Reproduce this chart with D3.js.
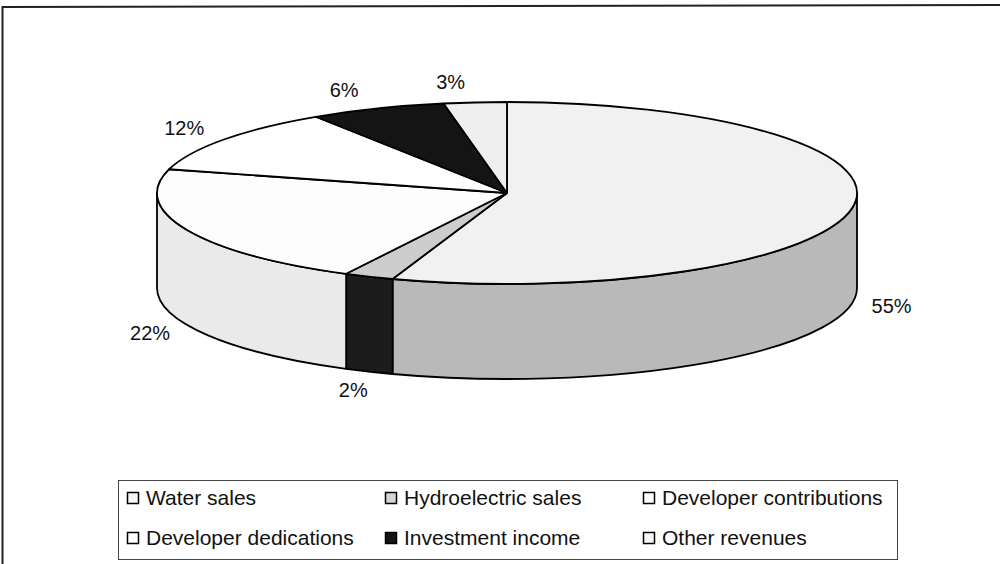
<!DOCTYPE html>
<html>
  <head>
    <meta charset="utf-8" />
    <title>Revenue Pie</title>
    <script src="https://d3js.org/d3.v7.min.js"></script>
    <style>
        body {
            margin: 0;
            background: #fff;
        }
        text {
            font-family: "Liberation Sans", Arial, sans-serif;
            fill: #111;
        }
    </style>
  </head>
  <body>
    <svg id="pieChart"></svg>

    <script>
        // revenue shares (labels are rounded %)
        var categories = ["Water sales", "Hydroelectric sales", "Developer contributions",
                          "Developer dedications", "Investment income", "Other revenues"];
        var values = [55.3, 2.3, 21.6, 11.6, 6.3, 2.9];

        // greys: top face / side wall / legend swatch
        var topFills = ["#f1f1f1", "#cdcdcd", "#fdfdfd", "#ffffff", "#141414", "#efefef"];
        var sideFills = ["#b9b9b9", "#1c1c1c", "#eaeaea", "#e6e6e6", "#0a0a0a", "#d8d8d8"];
        var swatchFills = ["#f6f6f6", "#d4d4d4", "#ffffff", "#ffffff", "#141414", "#f6f6f6"];

        var width = 1000;
        var height = 564;

        var cx = 507, cy = 193;   // centre of the top face
        var rx = 350, ry = 91;    // ellipse radii
        var depth = 95;           // thickness of the disc

        var svg = d3.select("#pieChart").attr("width", width).attr("height", height);

        var topColor = d3.scaleOrdinal().domain(categories).range(topFills);
        var sideColor = d3.scaleOrdinal().domain(categories).range(sideFills);
        var swatchColor = d3.scaleOrdinal().domain(categories).range(swatchFills);
        var pct = d3.format(".0%");
        var total = d3.sum(values);

        var data = categories.map(function(c, i) { return {name: c, value: values[i]}; });
        var arcs = d3.pie().sort(null).value(function(d) { return d.value; })(data);

        function pt(a, dy) {
            return [cx + rx * Math.sin(a), cy - ry * Math.cos(a) + (dy || 0)];
        }

        function topPath(d) {
            var p0 = pt(d.startAngle), p1 = pt(d.endAngle);
            var large = (d.endAngle - d.startAngle) > Math.PI ? 1 : 0;
            return "M" + cx + "," + cy + "L" + p0 + "A" + rx + "," + ry + " 0 " + large + " 1 " + p1 + "Z";
        }

        function sidePath(d) {
            var a0 = Math.max(d.startAngle, Math.PI / 2);
            var a1 = Math.min(d.endAngle, 3 * Math.PI / 2);
            if (a1 <= a0) return null;
            var t0 = pt(a0), t1 = pt(a1), b0 = pt(a0, depth), b1 = pt(a1, depth);
            return "M" + t0 + "A" + rx + "," + ry + " 0 0 1 " + t1 +
                   "L" + b1 + "A" + rx + "," + ry + " 0 0 0 " + b0 + "Z";
        }

        // outer frame (only top and left edges show in the scan)
        svg.append("path")
            .attr("d", "M2.5,564L2.5,7L1000,5")
            .attr("fill", "none")
            .attr("stroke", "#222")
            .attr("stroke-width", 2);

        // side walls
        svg.append("g").selectAll("path")
            .data(arcs.filter(function(d) { return sidePath(d) !== null; }))
            .enter().append("path")
            .attr("d", sidePath)
            .attr("fill", function(d) { return sideColor(d.data.name); })
            .attr("stroke", "#000")
            .attr("stroke-width", 1.8)
            .attr("stroke-linejoin", "round");

        // top faces
        svg.append("g").selectAll("path")
            .data(arcs)
            .enter().append("path")
            .attr("d", topPath)
            .attr("fill", function(d) { return topColor(d.data.name); })
            .attr("stroke", "#000")
            .attr("stroke-width", 1.8)
            .attr("stroke-linejoin", "round");

        // percentage labels, placed outside the rim at each slice's mid angle
        var gx = 20, gy = 12, tw = 40, th = 16;
        svg.append("g").selectAll("text")
            .data(arcs)
            .enter().append("text")
            .attr("x", function(d) {
                var m = (d.startAngle + d.endAngle) / 2;
                var back = Math.max(0, Math.cos(m));
                return cx + (rx + gx) * Math.sin(m) + Math.sin(m) * tw / 2 - back * back * 21;
            })
            .attr("y", function(d) {
                var m = (d.startAngle + d.endAngle) / 2;
                var y = cy - (ry + gy) * Math.cos(m) - Math.cos(m) * th / 2;
                if (Math.cos(m) < 0) y += depth;
                return y;
            })
            .attr("dy", "0.35em")
            .attr("text-anchor", "middle")
            .attr("font-size", 20)
            .text(function(d) { return pct(d.data.value / total); });

        // legend
        var legend = svg.append("g");
        legend.append("rect")
            .attr("x", 118.5).attr("y", 480.5)
            .attr("width", 779).attr("height", 79)
            .attr("fill", "none")
            .attr("stroke", "#444")
            .attr("stroke-width", 1);

        var colX = d3.scalePoint().domain([0, 1, 2]).range([127, 643]);
        var rowY = d3.scalePoint().domain([0, 1]).range([498, 538]);

        var items = legend.selectAll("g.item")
            .data(categories)
            .enter().append("g")
            .attr("class", "item")
            .attr("transform", function(d, i) {
                return "translate(" + colX(i % 3) + "," + rowY(Math.floor(i / 3)) + ")";
            });

        items.append("rect")
            .attr("x", 0.5).attr("y", -5.5)
            .attr("width", 11).attr("height", 11)
            .attr("fill", function(d) { return swatchColor(d); })
            .attr("stroke", "#000")
            .attr("stroke-width", 1.5);

        items.append("text")
            .attr("x", 19)
            .attr("dy", "0.35em")
            .attr("font-size", 21)
            .text(function(d) { return d; });
    </script>
  </body>
</html>
